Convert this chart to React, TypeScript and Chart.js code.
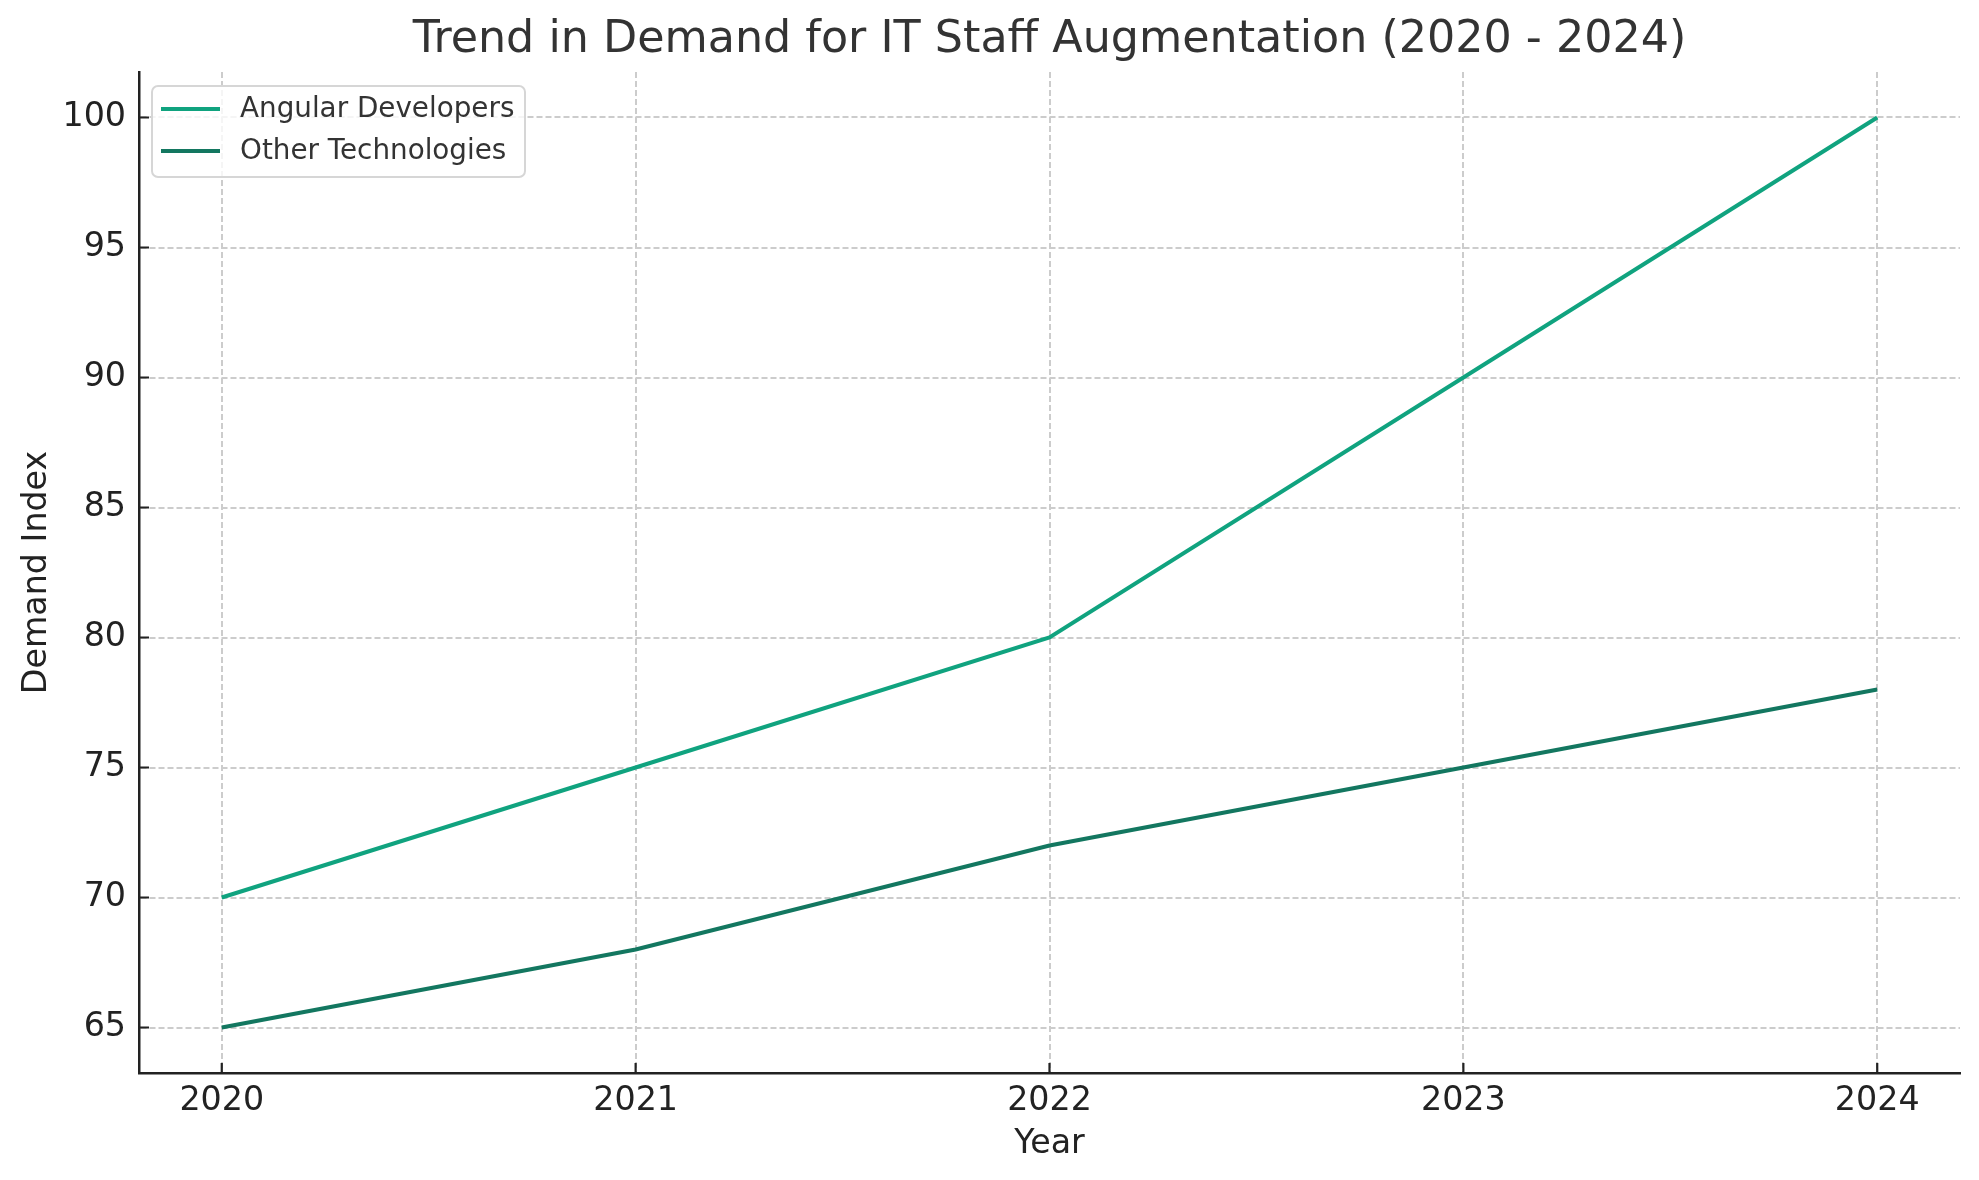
import { useEffect, useRef } from "react";
import { Chart, registerables } from "chart.js";

Chart.register(...registerables);

const years = [2020, 2021, 2022, 2023, 2024];
const angularDemand = [70, 75, 80, 90, 100];
const otherDemand = [65, 68, 72, 75, 78];
const yTicks = [65, 70, 75, 80, 85, 90, 95, 100];

const FONT = "DejaVu Sans";

// title, framed legend and inward ticks, drawn the matplotlib way
const decorations = {
  id: "decorations",
  afterDatasetsDraw(chart: any) {
    const { ctx, chartArea } = chart;
    const xs = chart.scales.x;
    const ys = chart.scales.y;

    ctx.save();
    ctx.strokeStyle = "#222222";
    ctx.lineWidth = 2.2;
    ctx.beginPath();
    xs.ticks.forEach((t: any) => {
      const px = xs.getPixelForValue(t.value);
      ctx.moveTo(px, chartArea.bottom);
      ctx.lineTo(px, chartArea.bottom - 10);
    });
    ys.ticks.forEach((t: any) => {
      const py = ys.getPixelForValue(t.value);
      ctx.moveTo(chartArea.left, py);
      ctx.lineTo(chartArea.left + 10, py);
    });
    ctx.stroke();

    // title
    ctx.fillStyle = "#333333";
    ctx.font = `44.4px "${FONT}"`;
    ctx.textAlign = "center";
    ctx.textBaseline = "middle";
    ctx.fillText(
      "Trend in Demand for IT Staff Augmentation (2020 - 2024)",
      (chartArea.left + chartArea.right) / 2,
      40
    );

    // legend
    const bx = chartArea.left + 13;
    const by = chartArea.top + 14;
    ctx.beginPath();
    ctx.roundRect(bx, by, 373, 91, 6);
    ctx.fillStyle = "rgba(255,255,255,0.8)";
    ctx.fill();
    ctx.strokeStyle = "#d6d6d6";
    ctx.lineWidth = 2;
    ctx.stroke();

    ctx.font = `27.8px "${FONT}"`;
    ctx.textAlign = "left";
    chart.data.datasets.forEach((ds: any, i: number) => {
      const y = by + 24 + i * 42;
      ctx.strokeStyle = ds.borderColor;
      ctx.lineWidth = 4;
      ctx.beginPath();
      ctx.moveTo(bx + 9, y - 1);
      ctx.lineTo(bx + 68, y - 1);
      ctx.stroke();
      ctx.fillStyle = "#333333";
      ctx.fillText(ds.label, bx + 88, y);
    });
    ctx.restore();
  },
};

const App = () => {
  const chartRef = useRef<HTMLCanvasElement | null>(null);

  useEffect(() => {
    document.body.style.margin = "0";
    if (!chartRef.current) return;
    const ctx = chartRef.current.getContext("2d");
    if (!ctx) return;

    Chart.defaults.font.family = FONT;

    const chart = new Chart(ctx, {
      type: "line",
      data: {
        datasets: [
          {
            label: "Angular Developers",
            data: years.map((x, i) => ({ x, y: angularDemand[i] })),
            borderColor: "#10a37f",
            borderWidth: 4,
            pointRadius: 0,
            tension: 0,
          },
          {
            label: "Other Technologies",
            data: years.map((x, i) => ({ x, y: otherDemand[i] })),
            borderColor: "#137760",
            borderWidth: 4,
            pointRadius: 0,
            tension: 0,
          },
        ],
      },
      options: {
        animation: false,
        responsive: false,
        devicePixelRatio: 1,
        layout: { padding: { top: 72, right: 19, left: 0, bottom: 0 } },
        plugins: {
          legend: { display: false },
          title: { display: false },
          tooltip: { enabled: false },
        },
        scales: {
          x: {
            type: "linear",
            min: 2019.8,
            max: 2024.2,
            afterBuildTicks: (scale: any) => {
              scale.ticks = years.map((v) => ({ value: v }));
            },
            afterFit: (scale: any) => {
              scale.height = 107;
            },
            ticks: {
              callback: (v: any) => String(v),
              color: "#222222",
              font: { size: 33.3 },
              padding: 8,
              maxRotation: 0,
            },
            grid: { color: "#cccccc", lineWidth: 2, drawTicks: false },
            border: { display: true, color: "#222222", width: 2.5, dash: [6, 3] },
            title: {
              display: true,
              text: "Year",
              color: "#222222",
              font: { size: 33.3 },
              padding: { top: 0, bottom: 16 },
            },
          },
          y: {
            min: 63.25,
            max: 101.75,
            afterBuildTicks: (scale: any) => {
              scale.ticks = yTicks.map((v) => ({ value: v }));
            },
            afterFit: (scale: any) => {
              scale.width = 139;
            },
            ticks: {
              color: "#222222",
              font: { size: 33.3 },
              padding: 13,
            },
            grid: { color: "#cccccc", lineWidth: 2, drawTicks: false },
            border: { display: true, color: "#222222", width: 2.5, dash: [6, 3] },
            title: {
              display: true,
              text: "Demand Index",
              color: "#222222",
              font: { size: 33.3 },
              padding: { top: 17, bottom: 0 },
            },
          },
        },
      },
      plugins: [decorations],
    });

    return () => {
      chart.destroy();
    };
  }, []);

  return (
    <div style={{ width: 1979, height: 1180, background: "#ffffff" }}>
      <canvas ref={chartRef} width={1979} height={1180}></canvas>
    </div>
  );
};

export default App;
